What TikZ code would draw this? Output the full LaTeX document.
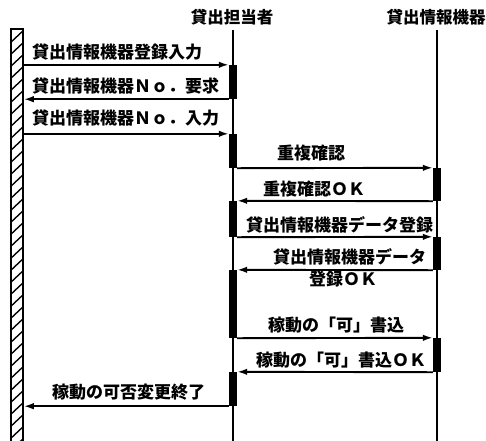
\documentclass[tikz,border=0pt]{standalone}
\usepackage{fontspec}
\newfontfamily\jp{Noto Sans CJK JP}
\usetikzlibrary{arrows.meta}
\tikzset{
  lbl/.style={font=\jp\bfseries\fontsize{17}{19}\selectfont, inner sep=0pt, anchor=west},
  actor/.style={font=\jp\bfseries\fontsize{16.5}{18}\selectfont, inner sep=0pt},
  lifeline/.style={line width=1.4pt},
  act/.style={fill=black, draw=none, minimum width=8pt, inner sep=0pt},
  msg/.style={line width=1.9pt, -{Latex[length=10pt,width=6.5pt]}},
  userbox/.style={draw, line width=1.5pt, minimum width=12pt, inner sep=0pt}
}
\begin{document}
\begin{tikzpicture}[x=1pt,y=-1pt]
\useasboundingbox (0,0) rectangle (486,440);
% actor labels
\node[actor] (clerk) at (232,17) {貸出担当者};
\node[actor] (dev) at (436,17) {貸出情報機器};
% lifelines
\coordinate (c1top) at (233,30);
\coordinate (c1bot) at (233,442);
\coordinate (c2top) at (437,30);
\coordinate (c2bot) at (437,442);
\draw[lifeline] (c1top) -- (c1bot);
\draw[lifeline] (c2top) -- (c2bot);
% hatched user column
\begin{scope}
  \clip (11,29) rectangle (23,442);
  \foreach \y in {20,32,...,470} \draw[line width=1.4pt] (9,\y) -- (25,\y-15);
\end{scope}
\node[userbox, minimum height=413pt] (user) at (17,235.5) {};
% activations
\node[act, minimum height=34pt] (A1) at (233,82) {};
\node[act, minimum height=34pt] (A2) at (233,151) {};
\node[act, minimum height=36pt] (A3) at (233,219) {};
\node[act, minimum height=68pt] (A4) at (233,304) {};
\node[act, minimum height=34pt] (A5) at (233,389) {};
\node[act, minimum height=33pt] (B1) at (437,184.5) {};
\node[act, minimum height=33pt] (B2) at (437,253.5) {};
\node[act, minimum height=34pt] (B3) at (437,355) {};
% messages
\draw[msg] (user.east |- A1.north) -- (A1.north west);
\draw[msg] (A1.south west) -- (user.east |- A1.south);
\draw[msg] (user.east |- A2.north) -- (A2.north west);
\draw[msg] (A2.south east) -- (B1.north west);
\draw[msg] (B1.south west) -- (A3.north east);
\draw[msg] (A3.south east) -- (B2.north west);
\draw[msg] (B2.south west) -- (A4.north east);
\draw[msg] (A4.south east) -- (B3.north west);
\draw[msg] (B3.south west) -- (A5.north east);
\draw[msg] (A5.south west) -- (user.east |- A5.south);
% labels
\node[lbl] (t1) at (32,52) {貸出情報機器登録入力};
\node[lbl] (t2) at (32,86) {貸出情報機器Ｎｏ．要求};
\node[lbl] (t3) at (32,118) {貸出情報機器Ｎｏ．入力};
\node[lbl] (t4) at (277,153) {重複確認};
\node[lbl] (t5) at (263,189) {重複確認ＯＫ};
\node[lbl] (t6) at (246,225) {貸出情報機器データ登録};
\node[lbl] (t7a) at (273,257) {貸出情報機器データ};
\node[lbl] (t7b) at (309,279) {登録ＯＫ};
\node[lbl] (t8) at (268,325) {稼動の「可」書込};
\node[lbl] (t9) at (256,360) {稼動の「可」書込ＯＫ};
\node[lbl] (t10) at (52,392) {稼動の可否変更終了};
\end{tikzpicture}
\end{document}
